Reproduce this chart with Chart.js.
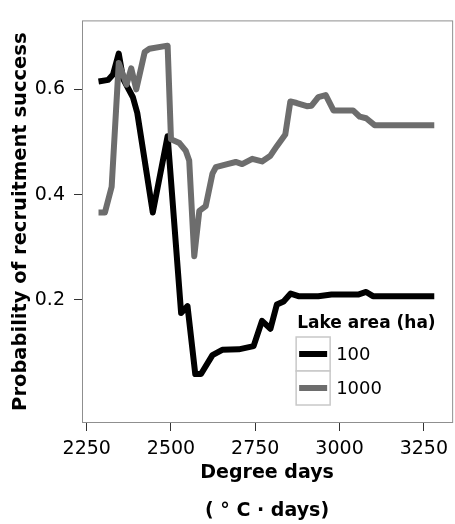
<!DOCTYPE html>
<html>
<head>
<meta charset="utf-8">
<script src="https://cdn.jsdelivr.net/npm/chart.js@4.4.1/dist/chart.umd.min.js"></script>
<style>
  html, body { margin: 0; padding: 0; background: #fff; }
</style>
</head>
<body>
<canvas id="recruitChart" width="455" height="524"></canvas>
<script>
// values
const degreeDays100 = [2285, 2314, 2328, 2345, 2358, 2372, 2387, 2400, 2446, 2490, 2530, 2549, 2572, 2589, 2623, 2652, 2701, 2745, 2770, 2795, 2814, 2834, 2855, 2878, 2937, 2976, 3055, 3079, 3099, 3281];
const success100 = [0.615, 0.618, 0.628, 0.668, 0.620, 0.603, 0.585, 0.555, 0.366, 0.511, 0.175, 0.188, 0.059, 0.059, 0.095, 0.105, 0.106, 0.112, 0.160, 0.145, 0.191, 0.197, 0.212, 0.207, 0.207, 0.210, 0.210, 0.215, 0.207, 0.207];

const degreeDays1000 = [2285, 2304, 2324, 2345, 2368, 2382, 2397, 2422, 2436, 2490, 2500, 2525, 2544, 2554, 2569, 2584, 2603, 2623, 2633, 2667, 2692, 2711, 2741, 2770, 2795, 2814, 2839, 2854, 2873, 2903, 2917, 2937, 2959, 2982, 3040, 3060, 3079, 3104, 3153, 3281];
const success1000 = [0.366, 0.366, 0.415, 0.650, 0.609, 0.640, 0.600, 0.671, 0.677, 0.683, 0.505, 0.498, 0.483, 0.465, 0.283, 0.369, 0.378, 0.440, 0.452, 0.458, 0.462, 0.458, 0.468, 0.463, 0.474, 0.492, 0.514, 0.577, 0.574, 0.568, 0.569, 0.585, 0.589, 0.560, 0.560, 0.548, 0.545, 0.532, 0.532, 0.532];

const lakeAreas = ['100', '1000'];
const xTicks = [2250, 2500, 2750, 3000, 3250];
const yTicks = [0.2, 0.4, 0.6];

const FONT = 'DejaVu Sans';

function toPoints(xs, ys) {
  return xs.map((x, i) => ({ x: x, y: ys[i] }));
}

// panel border + legend inside the plot (ggplot style)
const panelLegend = {
  id: 'panelLegend',
  afterDraw(chart) {
    const { ctx, chartArea: a } = chart;
    ctx.save();
    ctx.strokeStyle = '#8f8f8f';
    ctx.lineWidth = 1;
    ctx.strokeRect(a.left + 0.5, a.top + 0.5, a.right - a.left, a.bottom - a.top - 1);

    const lx = a.right - 156;
    const ty = a.bottom - 86;
    ctx.fillStyle = '#000';
    ctx.font = 'bold 17px "' + FONT + '"';
    ctx.textBaseline = 'alphabetic';
    ctx.textAlign = 'left';
    ctx.fillText('Lake area (ha)', lx + 1, ty - 9);

    chart.data.datasets.forEach((ds, i) => {
      const by = ty + i * 34;
      ctx.fillStyle = '#fff';
      ctx.fillRect(lx, by, 34, 34);
      ctx.strokeStyle = '#c8c8c8';
      ctx.lineWidth = 1.5;
      ctx.strokeRect(lx, by, 34, 34);
      ctx.strokeStyle = ds.borderColor;
      ctx.lineWidth = 6;
      ctx.lineCap = 'butt';
      ctx.beginPath();
      ctx.moveTo(lx + 3, by + 17);
      ctx.lineTo(lx + 31, by + 17);
      ctx.stroke();
      ctx.fillStyle = '#000';
      ctx.font = '18px "' + FONT + '"';
      ctx.textBaseline = 'middle';
      ctx.fillText(ds.label, lx + 40, by + 18);
    });
    ctx.restore();
  }
};

new Chart(document.getElementById('recruitChart'), {
  type: 'line',
  data: {
    datasets: [
      {
        label: lakeAreas[0],
        data: toPoints(degreeDays100, success100),
        borderColor: '#000000',
        borderWidth: 6,
        order: 1
      },
      {
        label: lakeAreas[1],
        data: toPoints(degreeDays1000, success1000),
        borderColor: '#6d6d6d',
        borderWidth: 6,
        order: 0
      }
    ]
  },
  options: {
    responsive: false,
    animation: false,
    devicePixelRatio: 1,
    layout: { padding: { top: 9, right: 0, bottom: 0, left: 0 } },
    elements: {
      point: { radius: 0 },
      line: { tension: 0, borderJoinStyle: 'round', borderCapStyle: 'butt', fill: false }
    },
    plugins: {
      legend: { display: false },
      tooltip: { enabled: false }
    },
    scales: {
      x: {
        type: 'linear',
        min: 2236,
        max: 3334,
        afterBuildTicks: s => { s.ticks = xTicks.map(v => ({ value: v })); },
        afterFit: s => { s.height = 101; },
        border: { display: false },
        grid: { drawOnChartArea: false, drawTicks: true, tickLength: 8, color: '#333', lineWidth: 1 },
        ticks: {
          color: '#000',
          padding: 7,
          maxRotation: 0,
          font: { family: FONT, size: 19 },
          callback: v => String(v)
        },
        title: {
          display: true,
          text: ['Degree days', '( \u00b0 C \u00b7 days)'],
          color: '#000',
          font: { family: FONT, size: 19, weight: 'bold', lineHeight: 2 },
          padding: { top: 0, bottom: -6 }
        }
      },
      y: {
        min: -0.034,
        max: 0.731,
        afterBuildTicks: s => { s.ticks = yTicks.map(v => ({ value: v })); },
        afterFit: s => { s.width = 82; },
        border: { display: false },
        grid: { drawOnChartArea: false, drawTicks: true, tickLength: 8, color: '#333', lineWidth: 1 },
        ticks: {
          color: '#000',
          padding: 9,
          font: { family: FONT, size: 19 },
          callback: v => v.toFixed(1)
        },
        title: {
          display: true,
          text: 'Probability of recruitment success',
          color: '#000',
          font: { family: FONT, size: 19.5, weight: 'bold', lineHeight: 1.2 },
          padding: { top: 9, bottom: 0 }
        }
      }
    }
  },
  plugins: [panelLegend]
});
</script>
</body>
</html>
